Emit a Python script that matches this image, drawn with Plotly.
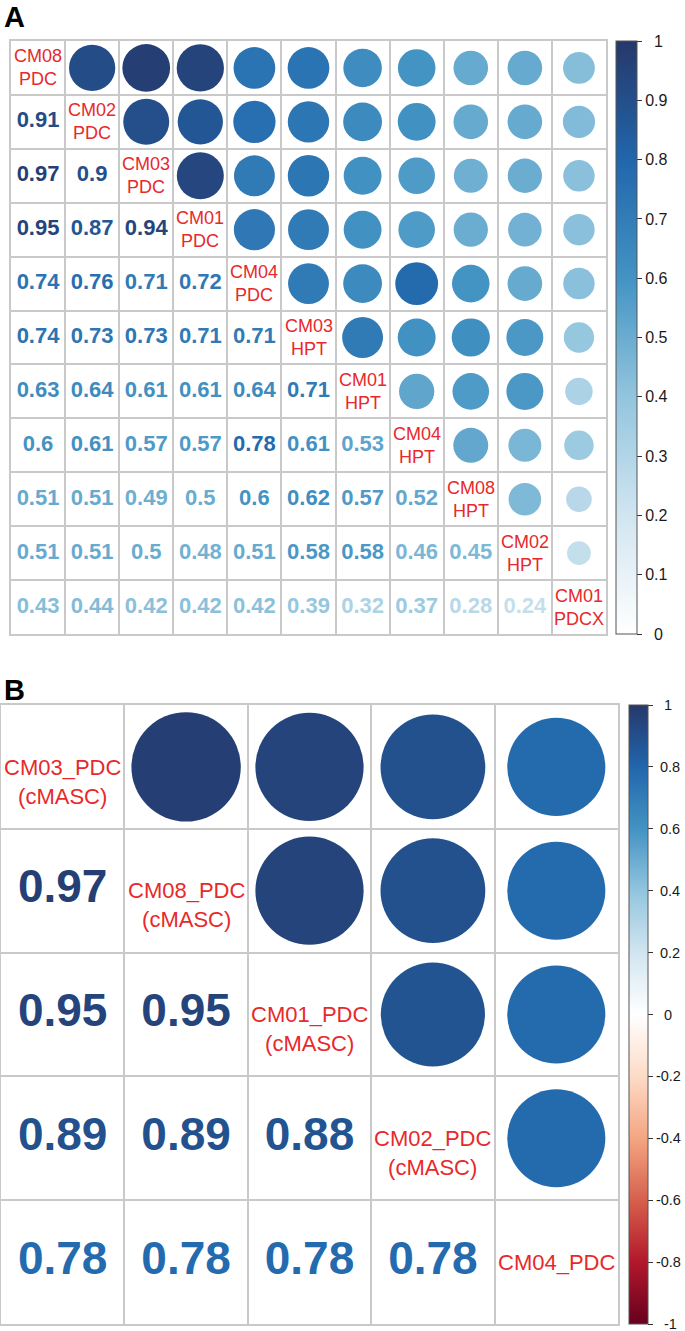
import math
import plotly.graph_objects as go

# ---------------- data ----------------
a_names = ["CM08 PDC", "CM02 PDC", "CM03 PDC", "CM01 PDC", "CM04 PDC", "CM03 HPT",
           "CM01 HPT", "CM04 HPT", "CM08 HPT", "CM02 HPT", "CM01 PDCX"]
a_lower = [
    [],
    [0.91],
    [0.97, 0.9],
    [0.95, 0.87, 0.94],
    [0.74, 0.76, 0.71, 0.72],
    [0.74, 0.73, 0.73, 0.71, 0.71],
    [0.63, 0.64, 0.61, 0.61, 0.64, 0.71],
    [0.6, 0.61, 0.57, 0.57, 0.78, 0.61, 0.53],
    [0.51, 0.51, 0.49, 0.5, 0.6, 0.62, 0.57, 0.52],
    [0.51, 0.51, 0.5, 0.48, 0.51, 0.58, 0.58, 0.46, 0.45],
    [0.43, 0.44, 0.42, 0.42, 0.42, 0.39, 0.32, 0.37, 0.28, 0.24],
]
a_ticks = [0, 0.1, 0.2, 0.3, 0.4, 0.5, 0.6, 0.7, 0.8, 0.9, 1]

b_names = ["CM03_PDC (cMASC)", "CM08_PDC (cMASC)", "CM01_PDC (cMASC)",
           "CM02_PDC (cMASC)", "CM04_PDC"]
b_lower = [
    [],
    [0.97],
    [0.95, 0.95],
    [0.89, 0.89, 0.88],
    [0.78, 0.78, 0.78, 0.78],
]
b_ticks = [-1, -0.8, -0.6, -0.4, -0.2, 0, 0.2, 0.4, 0.6, 0.8, 1]

# ---------------- styling ----------------
W, H = 685, 1331
FONT = "Liberation Sans, Arial, sans-serif"
RED = "#E8292B"
GRID = "#c9c9c9"

rdbu = ["#67001F", "#B2182B", "#D6604D", "#F4A582", "#FDDBC7", "#FFFFFF",
        "#D1E5F0", "#92C5DE", "#4393C3", "#2166AC", "#26386a"]
scale_b = [[i / 10, c] for i, c in enumerate(rdbu)]
scale_a = [[(i - 5) / 5, c] for i, c in enumerate(rdbu) if i >= 5]


def hex2rgb(h):
    h = h.lstrip("#")
    return [int(h[k:k + 2], 16) for k in (0, 2, 4)]


def color_at(scale, t):
    t = min(max(t, 0), 1)
    for (p0, c0), (p1, c1) in zip(scale[:-1], scale[1:]):
        if p0 <= t <= p1:
            f = 0 if p1 == p0 else (t - p0) / (p1 - p0)
            a, b = hex2rgb(c0), hex2rgb(c1)
            return "rgb(%d,%d,%d)" % tuple(round(a[k] + (b[k] - a[k]) * f) for k in range(3))
    return scale[-1][1]


def px2paper_x(px):
    return px / W


def px2paper_y(py):
    return 1 - py / H


# pixel boxes of the two panels
A_BOX = (11, 606, 41, 634)
B_BOX = (1, 618, 705, 1324)

fig = go.Figure()


def add_panel(names, lower, box, xa, ya, cax, scale, cmin, cmax,
              num_size, lab_size, first_line_centered):
    n = len(names)
    x0, x1, y0, y1 = box
    cell = min((x1 - x0) / n, (y1 - y0) / n)
    cx, cy, cv, cs = [], [], [], []
    tx, ty, tt, tc = [], [], [], []
    for i in range(n):
        for j in range(i):
            v = lower[i][j]
            # number in lower triangle
            tx.append(j); ty.append(i); tt.append(f"{v:g}")
            tc.append(color_at(scale, (v - cmin) / (cmax - cmin)))
            # circle in upper triangle
            cx.append(i); cy.append(j); cv.append(v)
            cs.append(0.9 * cell * math.sqrt(abs(v)))
    fig.add_trace(go.Scatter(
        x=cx, y=cy, mode="markers", xaxis=xa, yaxis=ya, hoverinfo="skip",
        marker=dict(size=cs, color=cv, coloraxis=cax, line=dict(width=0), opacity=1),
        showlegend=False))
    fig.add_trace(go.Scatter(
        x=tx, y=ty, mode="text", text=tt, xaxis=xa, yaxis=ya, hoverinfo="skip",
        textfont=dict(family=FONT, size=num_size, color=tc, weight="bold"),
        showlegend=False))
    xr = "x" if xa == "x" else xa
    yr = "y" if ya == "y" else ya
    for i, nm in enumerate(names):
        parts = nm.split(" ")
        txt = "<br>".join(parts)
        if first_line_centered and len(parts) > 1:
            fig.add_annotation(x=i, y=i, xref=xr, yref=yr, text=txt, showarrow=False,
                               yanchor="top", yshift=lab_size * 0.65,
                               font=dict(family=FONT, size=lab_size, color=RED))
        else:
            fig.add_annotation(x=i, y=i, xref=xr, yref=yr, text=txt, showarrow=False,
                               font=dict(family=FONT, size=lab_size, color=RED))


add_panel(a_names, a_lower, A_BOX, "x", "y", "coloraxis", scale_a, 0, 1, 22, 18, False)
add_panel(b_names, b_lower, B_BOX, "x2", "y2", "coloraxis2", scale_b, -1, 1, 46, 22, True)


def axis_cfg(n, box, horizontal):
    x0, x1, y0, y1 = box
    if horizontal:
        dom = [px2paper_x(x0), px2paper_x(x1)]
        rng = [-0.5, n - 0.5]
    else:
        dom = [px2paper_y(y1), px2paper_y(y0)]
        rng = [n - 0.5, -0.5]
    return dict(domain=dom, range=rng, tickvals=[k - 0.5 for k in range(n + 1)],
                showticklabels=False, ticks="", showgrid=True, gridcolor=GRID,
                gridwidth=1.5, zeroline=False, showline=True, mirror=True,
                linecolor=GRID, linewidth=1.5, fixedrange=True)


def centered_ticktext(vals):
    labs = [f"{v:g}" for v in vals]
    widths = [sum(0.333 if ch == "-" else 0.278 if ch == "." else 0.556 for ch in s) for s in labs]
    wmax = max(widths)
    return [("\u2008" * round((wmax - w) / 2 / 0.278)) + s for s, w in zip(labs, widths)]


def cbar(box, vals, cbx0, cbx1, fsize):
    x0, x1, y0, y1 = box
    return dict(x=px2paper_x(cbx0), xanchor="left", thickness=cbx1 - cbx0,
                thicknessmode="pixels", lenmode="fraction", len=(y1 - y0) / H,
                y=px2paper_y((y0 + y1) / 2), yanchor="middle", xpad=0, ypad=0,
                outlinewidth=1, outlinecolor="#555555", tickmode="array",
                tickvals=vals, ticktext=centered_ticktext(vals), ticks="outside",
                ticklen=5, tickwidth=1, tickcolor="#333333", ticklabeloverflow="allow",
                tickfont=dict(family=FONT, size=fsize, color="#1a1a1a"))


n_a, n_b = len(a_names), len(b_names)
fig.update_layout(
    width=W, height=H, margin=dict(l=0, r=0, t=0, b=0),
    paper_bgcolor="white", plot_bgcolor="white", showlegend=False,
    xaxis=dict(axis_cfg(n_a, A_BOX, True), anchor="y"),
    yaxis=dict(axis_cfg(n_a, A_BOX, False), anchor="x"),
    xaxis2=dict(axis_cfg(n_b, B_BOX, True), anchor="y2"),
    yaxis2=dict(axis_cfg(n_b, B_BOX, False), anchor="x2"),
    coloraxis=dict(colorscale=scale_a, cmin=0, cmax=1,
                   colorbar=cbar(A_BOX, a_ticks, 616, 637, 16)),
    coloraxis2=dict(colorscale=scale_b, cmin=-1, cmax=1,
                    colorbar=cbar(B_BOX, b_ticks, 629, 648, 14.5)),
)

fig.add_annotation(text="<b>A</b>", xref="paper", yref="paper", x=px2paper_x(2),
                   y=px2paper_y(17), xanchor="left", yanchor="middle", showarrow=False,
                   font=dict(family=FONT, size=29, color="black"))
fig.add_annotation(text="<b>B</b>", xref="paper", yref="paper", x=px2paper_x(2),
                   y=px2paper_y(690), xanchor="left", yanchor="middle", showarrow=False,
                   font=dict(family=FONT, size=29, color="black"))

fig.write_html(
    "out.html",
    config={"displayModeBar": False},
    post_script="document.body.style.margin='0px';document.body.style.overflow='hidden';",
)
